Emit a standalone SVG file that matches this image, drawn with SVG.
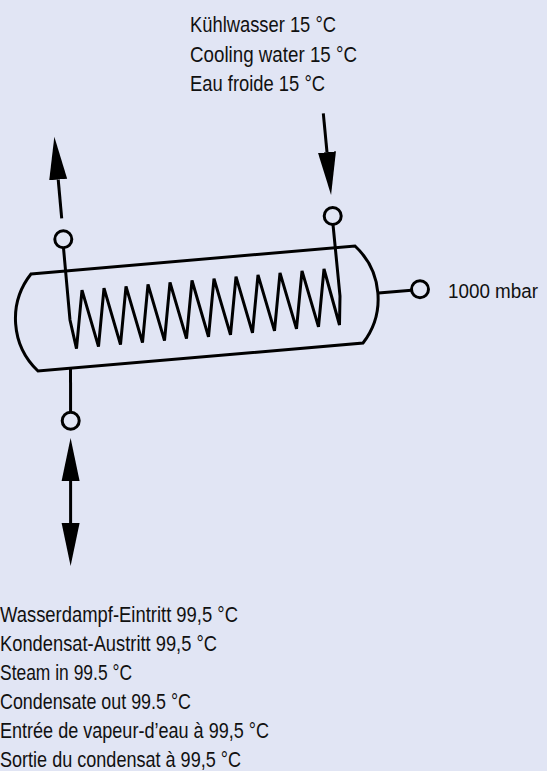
<svg xmlns="http://www.w3.org/2000/svg" width="547" height="771" viewBox="0 0 547 771">
  <style>
    .ln { fill: none; stroke: #000; stroke-width: 3; }
    .port { fill: #E1E5F4; stroke: #000; stroke-width: 3; }
    .lbl { font-family: "Liberation Sans", Arial, sans-serif; font-size: 21.5px; fill: #111; }
    .lbs { font-family: "Liberation Sans", Arial, sans-serif; font-size: 20px; fill: #111; }
  </style>
  <defs>
    <marker id="head" markerUnits="userSpaceOnUse" markerWidth="44" markerHeight="20" viewBox="0 -10 44 20" refX="0" refY="0" orient="auto-start-reverse">
      <path d="M0,-9 L43,0 L0,9 Z" fill="#000"/>
    </marker>
  </defs>
  <rect x="0" y="0" width="547" height="771" fill="#E1E5F4"/>

  <g id="vessel">
    <path class="ln" d="M31,274 L355,246 A72,72 0 0 1 363,343 L38,371 A72,72 0 0 1 31,274 Z"/>
  </g>

  <g id="coil">
    <path class="ln" d="M63.5,248 L70,320 L76.5,348.6 L82,290.1 L98.5,346.7 L104,288.2 L120.5,344.7 L126,286.3 L142.5,342.7 L148,284.3 L164.5,340.7 L170,282.4 L186.5,338.7 L192,280.5 L208.5,336.8 L214,278.6 L230.5,334.8 L236,276.7 L252.5,332.8 L258,274.8 L274.5,330.8 L280,272.9 L296.5,328.8 L302,270.9 L318.5,326.9 L324,269 L339.5,325 L340,296 L333,224.5"/>
  </g>

  <g id="connectors">
    <line class="ln" x1="70.5" y1="368" x2="70.6" y2="412"/>
    <line class="ln" x1="378.5" y1="293" x2="411.5" y2="290.3"/>
    <line class="ln" x1="61.7" y1="218.3" x2="58.2" y2="179.5" marker-end="url(#head)"/>
    <line class="ln" x1="323.3" y1="113.3" x2="327" y2="152.2" marker-end="url(#head)"/>
    <line class="ln" x1="70.6" y1="481" x2="70.6" y2="523" marker-start="url(#head)" marker-end="url(#head)"/>
  </g>

  <g id="port-cooling-out"><circle class="port" cx="63.3" cy="239.3" r="8.5"/></g>
  <g id="port-cooling-in"><circle class="port" cx="332.7" cy="216" r="8.5"/></g>
  <g id="port-steam"><circle class="port" cx="70.7" cy="420.7" r="8.5"/></g>
  <g id="port-vacuum"><circle class="port" cx="420" cy="289.3" r="8.5"/></g>

  <g id="label-cooling">
    <text class="lbl" x="190" y="32" textLength="146" lengthAdjust="spacingAndGlyphs">Kühlwasser 15 °C</text>
    <text class="lbl" x="190" y="61.5" textLength="167" lengthAdjust="spacingAndGlyphs">Cooling water 15 °C</text>
    <text class="lbl" x="190" y="91" textLength="135" lengthAdjust="spacingAndGlyphs">Eau froide 15 °C</text>
  </g>

  <g id="label-pressure">
    <text class="lbs" x="448" y="297.5" textLength="90" lengthAdjust="spacingAndGlyphs">1000 mbar</text>
  </g>

  <g id="label-steam">
    <text class="lbl" x="0" y="621.5" textLength="238" lengthAdjust="spacingAndGlyphs">Wasserdampf-Eintritt 99,5 °C</text>
    <text class="lbl" x="0" y="650.5" textLength="217" lengthAdjust="spacingAndGlyphs">Kondensat-Austritt 99,5 °C</text>
    <text class="lbl" x="0" y="679.5" textLength="132" lengthAdjust="spacingAndGlyphs">Steam in 99.5 °C</text>
    <text class="lbl" x="0" y="708.5" textLength="191" lengthAdjust="spacingAndGlyphs">Condensate out 99.5 °C</text>
    <text class="lbl" x="0" y="737.5" textLength="269" lengthAdjust="spacingAndGlyphs">Entrée de vapeur-d’eau à 99,5 °C</text>
    <text class="lbl" x="0" y="766.5" textLength="241" lengthAdjust="spacingAndGlyphs">Sortie du condensat à 99,5 °C</text>
  </g>
</svg>
